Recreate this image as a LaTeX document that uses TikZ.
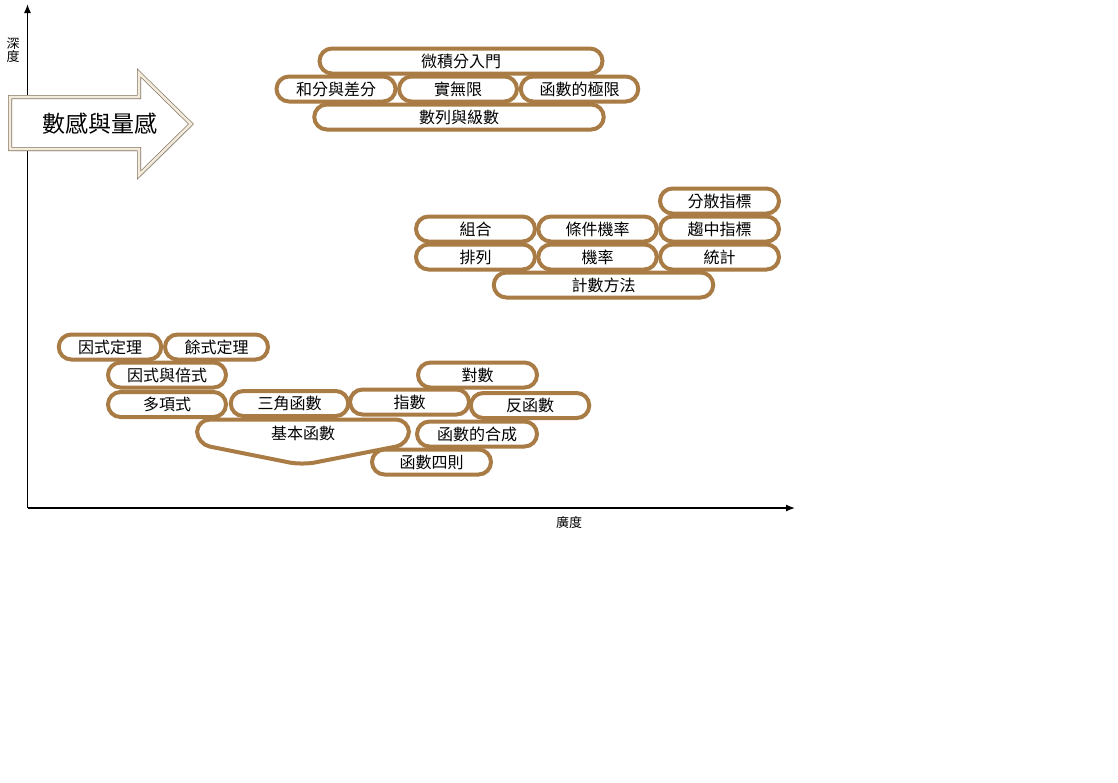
\documentclass[tikz,border=0pt]{standalone}
\usepackage{fontspec}
\setmainfont{Noto Sans CJK TC}
\usetikzlibrary{arrows.meta,shadows}
\definecolor{pillbrown}{HTML}{A97B45}
\definecolor{arrowedge}{HTML}{857563}
\definecolor{arrowband}{HTML}{F3EBDB}
\begin{document}
\begin{tikzpicture}[x=1pt,y=-1pt,
  pillshadow/.style={drop shadow={shadow xshift=1pt,shadow yshift=-1.5pt,opacity=0.35}},
  pill/.style={draw=pillbrown, line width=4pt, fill=white, rounded corners=12.5pt,
    minimum height=25pt, inner sep=0pt, font=\fontsize{16}{18}\selectfont, pillshadow},
  lbl/.style={inner sep=0pt, font=\fontsize{16}{18}\selectfont},
  axislbl/.style={inner sep=0pt, font=\fontsize{13}{14}\selectfont},
  axis/.style={line width=1.3pt, -{Latex[length=9pt,width=7pt]}}
]
\useasboundingbox (0,0) rectangle (1118,782);

% axes
\coordinate (O) at (27.5,508);
\coordinate (ytip) at (27.5,4);
\coordinate (xtip) at (795,508);
\draw[axis] (O) -- (ytip);
\draw[axis] (O) -- (xtip);
\node[axislbl, align=center] (depth) at (13,50) {深\\[-1pt]度};
\node[axislbl] (breadth) at (569,523) {廣度};

% big arrow
\draw[draw=arrowedge, line width=0.7pt, double=arrowband, double distance=2.6pt, fill=white,
  drop shadow={shadow xshift=1.5pt,shadow yshift=-2pt,opacity=0.3}]
  (10,97) -- (139,97) -- (139,73) -- (191,124) -- (139,175) -- (139,149) -- (10,149) -- cycle;
\node[inner sep=0pt, font=\fontsize{23}{25}\selectfont] (numsense) at (100,124) {數感與量感};

% calculus group
\node[pill, minimum width=283pt] (calc) at (461,61) {微積分入門};
\node[pill, minimum width=289.5pt] (shulie) at (459,117) {數列與級數};
\node[pill, minimum width=119pt] (hefen) at (336,89) {和分與差分};
\node[pill, minimum width=118pt] (shiwu) at (458,89) {實無限};
\node[pill, minimum width=117.5pt] (hanji) at (579.5,89) {函數的極限};

% statistics group
\node[pill, minimum width=219.5pt] (jishu) at (603.5,285) {計數方法};
\node[pill, minimum width=119pt] (pailie) at (475.5,257) {排列};
\node[pill, minimum width=118.5pt] (gailv) at (597.5,257) {機率};
\node[pill, minimum width=119pt] (tongji) at (719.5,257) {統計};
\node[pill, minimum width=119pt] (zuhe) at (475.5,229) {組合};
\node[pill, minimum width=118.5pt] (tiaojian) at (597.5,229) {條件機率};
\node[pill, minimum width=119pt] (quzhong) at (719.5,229) {趨中指標};
\node[pill, minimum width=119pt] (fensan) at (719.5,201) {分散指標};

% function group
\node[pill, minimum width=102.5pt] (yinshi) at (110,347) {因式定理};
\node[pill, minimum width=103pt] (yushi) at (216.5,347) {餘式定理};
\node[pill, minimum width=118pt] (yinbei) at (167,375) {因式與倍式};
\node[pill, minimum width=119pt] (duishu) at (477.5,375) {對數};

\draw[draw=pillbrown, line width=4pt, fill=white, rounded corners=13pt, pillshadow]
  (197,419.5) -- (409,419.5) -- (409,444) -- (302,465) -- (197,444) -- cycle;
\node[lbl] (jiben) at (303,433) {基本函數};

\node[pill, minimum width=118pt] (duoxiang) at (167,404.5) {多項式};
\node[pill, minimum width=117.5pt] (sanjiao) at (289.5,403.5) {三角函數};
\node[pill, minimum width=118.5pt] (fanhan) at (530,405.5) {反函數};
\node[pill, minimum width=119pt] (zhishu) at (409.5,402) {指數};
\node[pill, minimum width=120pt] (hecheng) at (477,434) {函數的合成};
\node[pill, minimum width=119pt] (sice) at (431.5,462) {函數四則};
\end{tikzpicture}
\end{document}
